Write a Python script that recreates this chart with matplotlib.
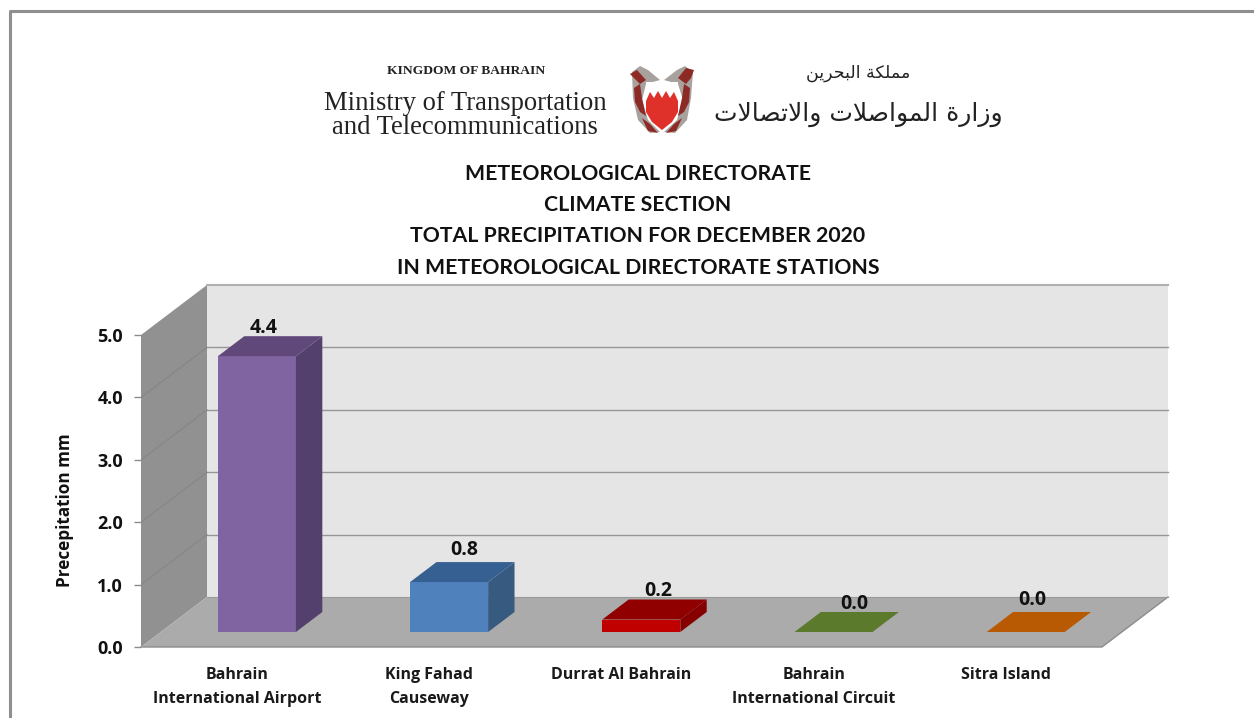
import matplotlib
matplotlib.use('Agg')
import matplotlib.pyplot as plt
from matplotlib.patches import Polygon

stations = ['Bahrain\nInternational Airport', 'King Fahad\nCauseway', 'Durrat Al Bahrain',
            'Bahrain\nInternational Circuit', 'Sitra Island']
rain_bar = [4.42, 0.8, 0.2, 0.0, 0.0]
rain_labels = ['4.4', '0.8', '0.2', '0.0', '0.0']
yticks = [0, 1, 2, 3, 4, 5]

front_cols = ['#8064A2', '#4F81BD', '#C00000', '#5C7A2C', '#B85A04']
side_cols = ['#54406C', '#375A80', '#860000', '#5C7A2C', '#B85A04']
top_cols = ['#60497A', '#376092', '#910000', '#5C7A2C', '#B85A04']

title_lines = ['METEOROLOGICAL DIRECTORATE', 'CLIMATE SECTION',
               'TOTAL PRECIPITATION FOR DECEMBER 2020',
               'IN METEOROLOGICAL DIRECTORATE STATIONS']

W, H = 1254, 718
fig = plt.figure(figsize=(W / 100, H / 100), dpi=100)

# axes = front plane of the 3d box
ax = fig.add_axes([141 / W, (H - 647) / H, 961 / W, 312 / H])
ax.set_xlim(0, 5)
ax.set_ylim(0, 5)
ax.patch.set_visible(False)
for s in ax.spines.values():
    s.set_visible(False)

# depth of the box in data units
dx = 66 / (961 / 5)
dy = 50 / (312 / 5)


def quad(points, col, z=1):
    ax.add_patch(Polygon(points, closed=True, facecolor=col, edgecolor='none', zorder=z,
                         clip_on=False))


# walls
quad([(dx, dy), (5 + dx, dy), (5 + dx, 5 + dy), (dx, 5 + dy)], '#E5E5E5')
quad([(0, 0), (dx, dy), (dx, 5 + dy), (0, 5)], '#919191')
quad([(0, 0), (5, 0), (5 + dx, dy), (dx, dy)], '#ABABAB')
ax.plot([0, 5, 5 + dx], [0, 0, dy], color='#8C8C8C', lw=1, zorder=2, clip_on=False)
ax.plot([dx, 5 + dx], [5 + dy, 5 + dy], color='#B0B0B0', lw=1.5, zorder=2, clip_on=False)
ax.plot([dx, 5 + dx], [dy, dy], color='#9A9A9A', lw=0.8, zorder=2, clip_on=False)

# grid
for v in yticks[1:5]:
    ax.plot([dx, 5 + dx], [v + dy, v + dy], color='#969696', lw=1, zorder=2, clip_on=False)
    ax.plot([0, dx], [v, v + dy], color='#848484', lw=0.7, zorder=2)

# bars, depth from 0.3 to 0.7 of the box
bar_w = 0.406
f0, f1 = 0.3, 0.7
# value labels are not centred the same way on each bar in the original (px)
label_dx = [-7, 2, 4, 8, -7]
label_dy = [-2, 2, -1, -2, 2]
for i, val in enumerate(rain_bar):
    x0 = i + 0.5 - bar_w / 2 + f0 * dx
    x1 = x0 + bar_w
    y0 = f0 * dy
    y1 = y0 + val
    ox = (f1 - f0) * dx
    oy = (f1 - f0) * dy
    if val > 0:
        quad([(x0, y0), (x1, y0), (x1, y1), (x0, y1)], front_cols[i], z=4)
        quad([(x1, y0), (x1 + ox, y0 + oy), (x1 + ox, y1 + oy), (x1, y1)], side_cols[i], z=4)
    quad([(x0, y1), (x1, y1), (x1 + ox, y1 + oy), (x0 + ox, y1 + oy)], top_cols[i], z=4)
    ax.annotate(rain_labels[i], (i + 0.5 + 0.5 * dx, y1 + oy),
                xytext=(label_dx[i] * 0.72, label_dy[i] * 0.72),
                textcoords='offset points', ha='center', va='bottom', fontsize=14,
                fontweight='bold', family='Open Sans', color='#111111', zorder=6,
                annotation_clip=False)

ax.set_xticks([i + 0.5 for i in range(len(stations))])
ax.set_xticklabels(stations, fontsize=11.5, fontweight='bold', family='Open Sans', color='#1a1a1a',
                   linespacing=1.65, va='top')
ax.tick_params(axis='x', length=0, pad=14.5)
ax.set_yticks(yticks)
ax.set_yticklabels(['%.1f' % v for v in yticks], fontsize=13, fontweight='bold',
                   family='Open Sans', color='#111111')
ax.tick_params(axis='y', length=5, width=1, color='#8C8C8C', pad=8)
ax.set_ylabel('Precepitation mm', fontsize=12.3, fontweight='bold', family='Open Sans',
              color='#111111')
ax.yaxis.set_label_coords(-67 / 961, 0.44)

# page frame, open on the right and at the bottom
fig.add_artist(plt.Line2D([10 / W, 10 / W, 1], [0, (H - 11) / H, (H - 11) / H],
                          color='#8F8F8F', lw=2.2))


def px(x, y):
    return x / W, (H - y) / H


# title
for line, y in zip(title_lines, [174, 205, 236, 268]):
    fig.text(*px(638, y), line, ha='center', va='center', fontsize=15.3, fontweight='bold',
             family='Lato', color='#111111')

# letterhead
fig.text(*px(466, 71), 'KINGDOM OF BAHRAIN', ha='center', va='center', fontsize=9.7,
         fontweight='bold', family='Liberation Serif', color='#222222')
fig.text(*px(465, 103.5), 'Ministry of Transportation', ha='center', va='center', fontsize=19.2,
         family='Liberation Serif', color='#222222')
fig.text(*px(465, 128), 'and Telecommunications', ha='center', va='center', fontsize=19.2,
         family='Liberation Serif', color='#222222')

# arabic is written in shaped forms, visual order, since matplotlib does no shaping
ar_small = '\uFEE3\uFEE4\uFEE0\uFEDC\uFE94 \uFE8D\uFEDF\uFE92\uFEA4\uFEAE\uFEF3\uFEE6'
ar_big = ('\uFEED\uFEAF\uFE8D\uFEAD\uFE93 \uFE8D\uFEDF\uFEE4\uFEEE\uFE8D\uFEBB\uFEFC\uFE95 '
          '\uFEED\uFE8D\uFEFB\uFE97\uFEBC\uFE8E\uFEFB\uFE95')
fig.text(*px(858, 73), ar_small[::-1], ha='center', va='center', fontsize=12.5,
         family='DejaVu Sans', color='#222222')
fig.text(*px(858, 114), ar_big[::-1], ha='center', va='center', fontsize=18,
         family='DejaVu Sans', color='#222222')


def crest(points, col, z=3):
    fig.add_artist(Polygon([px(*p) for p in points], closed=True, facecolor=col, edgecolor='none',
                           transform=fig.transFigure, zorder=z))


# coat of arms: grey and dark red mantling round a white and red shield
crest([(632, 72), (640, 66), (648, 70), (660, 80), (646, 84), (642, 100), (648, 120), (660, 132),
      (650, 133), (638, 120), (633, 98)], '#A8A29E')
crest([(693, 72), (685, 66), (677, 70), (664, 80), (678, 84), (683, 100), (677, 120), (664, 132),
      (675, 133), (687, 120), (691, 98)], '#A8A29E')
crest([(630, 74), (637, 70), (646, 80), (640, 84), (636, 80)], '#8E2A26')
crest([(694, 70), (686, 68), (678, 78), (686, 84), (691, 78)], '#8E2A26')
crest([(634, 88), (640, 84), (642, 98), (646, 116), (640, 112), (635, 102)], '#8E2A26')
crest([(690, 88), (684, 84), (682, 98), (678, 116), (684, 112), (689, 102)], '#8E2A26')
crest([(642, 118), (650, 124), (658, 133), (648, 131)], '#8E2A26')
crest([(682, 118), (674, 124), (666, 133), (676, 131)], '#8E2A26')
crest([(646, 82), (678, 82), (678, 112), (672, 122), (662, 130), (652, 122), (646, 112)], '#FFFFFF')
crest([(646, 101), (650, 92), (654, 98), (658, 91), (662, 98), (666, 91), (670, 98), (674, 92),
      (678, 101), (678, 112), (672, 122), (662, 130), (652, 122), (646, 112)], '#E0302A')

fig.savefig('out.png', dpi=100, facecolor='white')
